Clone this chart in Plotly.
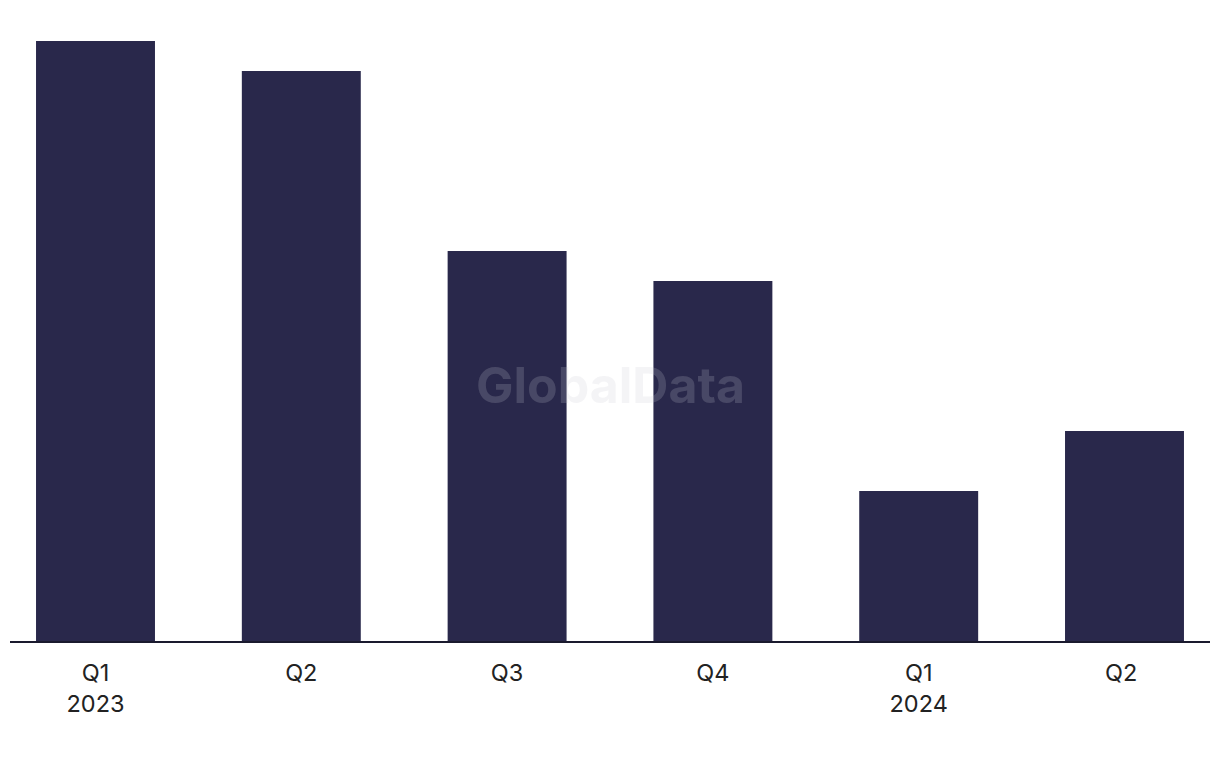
import plotly.graph_objects as go

categories = ["Q1<br>2023", "Q2", "Q3", "Q4", "Q1<br>2024", "Q2 "]
values = [20, 19, 13, 12, 5, 7]

bar_color = "#29284B"

fig = go.Figure()
fig.add_trace(go.Bar(
    x=list(range(len(categories))),
    y=values,
    width=0.578,
    marker=dict(color=bar_color, line=dict(width=0)),
    hoverinfo="skip",
))

fig.update_layout(
    width=1212,
    height=760,
    margin=dict(l=2, r=10, t=3, b=127, autoexpand=False),
    paper_bgcolor="white",
    plot_bgcolor="white",
    showlegend=False,
    font=dict(family="Inter, Liberation Sans, Arial, sans-serif", color="#222222", size=23),
    xaxis=dict(
        range=[-0.4155, 5.4155],
        tickmode="array",
        tickvals=list(range(len(categories))),
        ticktext=categories,
        showgrid=False,
        zeroline=False,
        showline=True,
        linecolor="#1a1a2e",
        linewidth=1.5,
        ticks="outside",
        ticklen=10,
        tickcolor="rgba(0,0,0,0)",
        tickfont=dict(size=23.5, color="#222222"),
        automargin=False,
    ),
    yaxis=dict(
        range=[0, 21],
        showgrid=False,
        zeroline=False,
        showline=False,
        showticklabels=False,
        ticks="",
        automargin=False,
    ),
    annotations=[dict(
        text="<b>GlobalData</b>",
        x=0.5, y=0.406, xref="paper", yref="paper",
        xanchor="center", yanchor="middle",
        showarrow=False,
        font=dict(size=50, family="Inter, Liberation Sans, Arial, sans-serif", color="rgba(200,200,212,0.2)"),
    )],
)

fig.write_html("out.html")
